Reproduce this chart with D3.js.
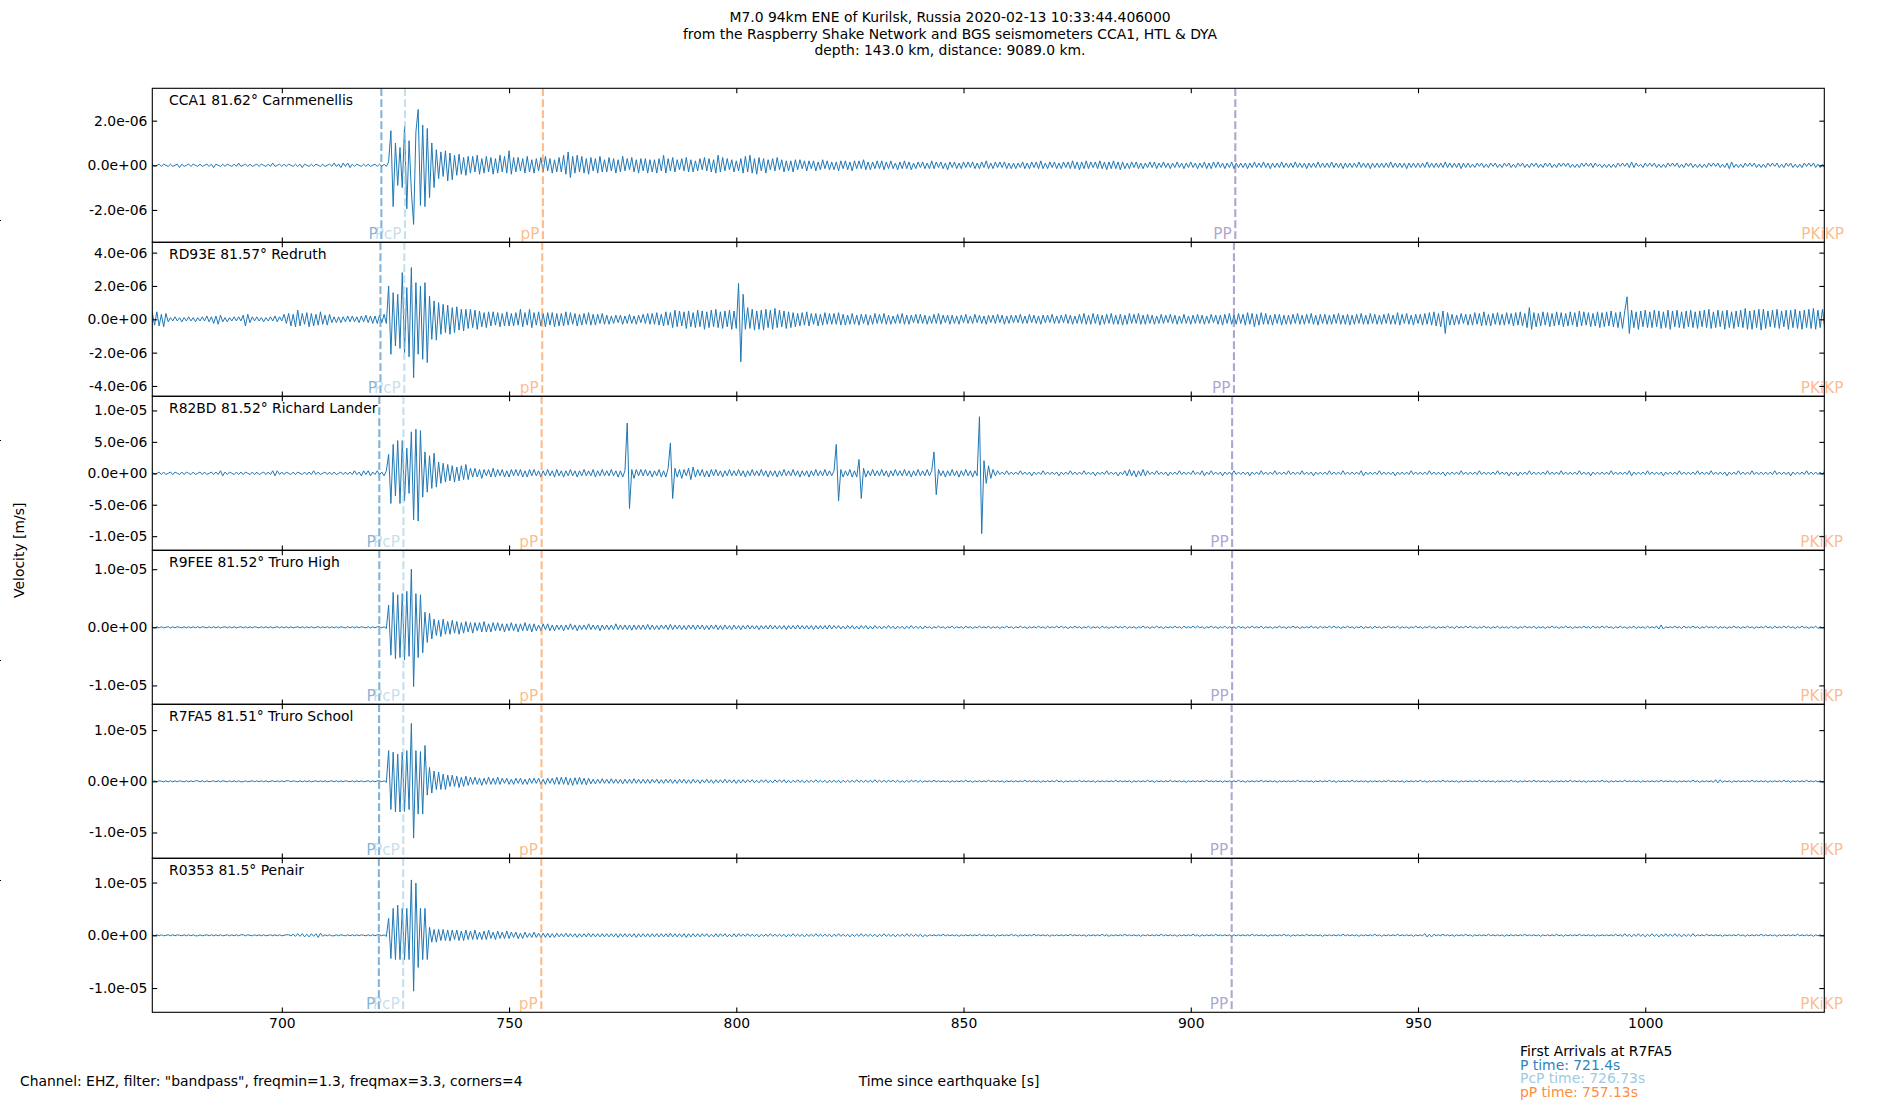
<!DOCTYPE html>
<html>
<head>
<meta charset="utf-8">
<script src="https://cdn.jsdelivr.net/npm/d3@7"></script>
<style>
  body { margin: 0; background: #fff; }
  svg text { font-family: "DejaVu Sans", sans-serif; }
</style>
</head>
<body>
<div id="chart"></div>
<script>
// ---- data ----
const titleLines = [
  "M7.0 94km ENE of Kurilsk, Russia 2020-02-13 10:33:44.406000",
  "from the Raspberry Shake Network and BGS seismometers CCA1, HTL & DYA",
  "depth: 143.0 km, distance: 9089.0 km."
];
const stations = [
  "CCA1 81.62° Carnmenellis",
  "RD93E 81.57° Redruth",
  "R82BD 81.52° Richard Lander",
  "R9FEE 81.52° Truro High",
  "R7FA5 81.51° Truro School",
  "R0353 81.5° Penair"
];
const xLim = [671.5, 1039.4];
const xTicks = [700, 750, 800, 850, 900, 950, 1000];
const yLims = [3.45e-6, 4.62e-6, 1.225e-5, 1.325e-5, 1.505e-5, 1.46e-5];
const yTicks = [
  [-2e-6, 0, 2e-6],
  [-4e-6, -2e-6, 0, 2e-6, 4e-6],
  [-1e-5, -5e-6, 0, 5e-6, 1e-5],
  [-1e-5, 0, 1e-5],
  [-1e-5, 0, 1e-5],
  [-1e-5, 0, 1e-5]
];
const phaseNames = ["P", "PcP", "pP", "PP", "PKiKP"];
const phaseColors = ["#3182bd", "#9ecae1", "#fd8d3c", "#756bb1", "#fd8d3c"];
// arrival times [s] per station, same order as phaseNames
const arrivals = [
  [721.9, 727.1, 757.45, 909.8, 1044.5],
  [721.7, 726.95, 757.3, 909.5, 1044.4],
  [721.45, 726.76, 757.17, 909.1, 1044.3],
  [721.45, 726.76, 757.17, 909.1, 1044.3],
  [721.4, 726.73, 757.13, 909.0, 1044.3],
  [721.35, 726.7, 757.09, 909.0, 1044.3]
];
const arrivalNotes = ["First Arrivals at R7FA5", "P time: 721.4s", "PcP time: 726.73s", "pP time: 757.13s"];
const noteColors = ["#000", "#3182bd", "#9ecae1", "#fd8d3c"];
const footer = 'Channel: EHZ, filter: "bandpass", freqmin=1.3, freqmax=3.3, corners=4';
const xLabel = "Time since earthquake [s]";
const yLabel = "Velocity [m/s]";

// trace samples every dt seconds from t0, in units of unit[i] m/s
const t0 = 671.5, dt = 0.5;
const unit = [5e-8, 5e-8, 2e-7, 1e-7, 1e-7, 1e-7];

const cca1 = [
  1,-1,0,1,-1,1,0,-1,1,-1,0,1,-2,1,-1,0,1,-1,1,0,
  -1,1,-1,0,1,-1,1,-2,1,0,-1,1,-1,1,0,-1,1,-1,2,-1,
  0,1,-1,1,-1,0,1,-1,1,0,-1,1,-1,2,-1,0,1,-1,1,-1,
  1,0,-1,1,-1,1,-2,1,0,-1,1,-1,1,0,-1,1,-1,0,1,-1,
  2,-1,1,-2,2,-1,2,-2,1,-1,1,0,-1,1,-1,1,-1,0,1,-1,
  1,-1,1,-1,3,31,-37,20,-18,16,-20,35,-39,22,-23,-53,30,50,-36,36,
  -37,33,-29,20,-20,14,-12,12,-10,13,-14,11,-13,9,-9,10,-8,7,-9,8,
  -7,8,-6,9,-8,6,-7,8,-6,7,-8,6,-7,9,-6,8,-7,13,-8,7,
  -6,7,-5,6,-7,8,-6,5,-7,6,-5,7,-6,8,-5,6,-7,5,-6,7,
  -6,9,-8,12,-11,8,-7,9,-6,8,-7,6,-8,7,-5,6,-7,8,-6,5,
  -6,7,-5,6,-7,5,-6,8,-5,6,-4,7,-6,5,-7,6,-5,6,-7,5,
  -6,5,-7,6,-5,9,-7,6,-5,7,-6,5,-4,6,-5,7,-6,5,-6,4,
  -5,6,-4,7,-5,6,-6,5,-7,9,-6,7,-5,6,-4,5,-6,4,-5,6,
  -7,8,-6,9,-7,6,-8,7,-5,6,-7,5,-4,6,-5,7,-4,5,-6,4,
  -5,4,-6,5,-4,5,-3,4,-5,4,-3,4,-5,3,-4,5,-3,4,-4,3,
  -4,3,-5,4,-3,4,-4,3,-5,4,-3,4,-3,5,-4,3,-4,3,-3,4,
  -3,4,-4,3,-3,4,-3,2,-4,3,-3,4,-3,3,-4,2,-3,3,-2,3,
  -3,2,-3,4,-3,3,-2,3,-3,2,-4,3,-2,3,-3,2,-3,3,-2,3,
  -2,3,-3,2,-3,3,-2,4,-3,2,-3,3,-2,3,-2,3,-3,2,-3,2,
  -3,2,-2,3,-3,2,-3,3,-2,3,-3,4,-3,2,-3,3,-2,3,-3,2,
  -3,3,-2,3,-3,4,-3,3,-4,3,-3,4,-3,3,-2,3,-3,4,-3,3,
  -4,3,-3,4,-3,3,-4,3,-3,2,-3,3,-2,3,-3,2,-3,2,-2,3,
  -2,3,-3,2,-2,3,-2,2,-3,2,-2,3,-2,2,-3,2,-2,3,-2,2,
  -3,2,-2,3,-3,2,-3,3,-2,3,-2,2,-3,2,-2,3,-3,2,-2,2,
  -2,2,-3,2,-2,3,-2,2,-2,3,-2,2,-3,2,-2,2,-2,3,-2,2,
  -2,2,-2,3,-2,2,-2,2,-3,2,-2,2,-2,3,-2,2,-2,2,-2,3,
  -2,2,-2,2,-3,2,-2,2,-2,2,-2,3,-2,2,-2,2,-3,2,-2,2,
  -2,2,-2,2,-2,3,-2,2,-2,2,-2,2,-3,2,-2,2,-2,2,-2,2,
  -2,3,-2,2,-2,2,-2,2,-2,3,-2,2,-2,2,-2,2,-3,2,-2,2,
  -2,1,-2,2,-1,2,-2,1,-2,2,-1,2,-2,1,-2,2,-1,2,-2,1,
  -2,2,-1,2,-2,1,-2,2,-1,2,-2,1,-2,2,-1,2,-2,1,-2,2,
  -1,2,-1,2,-2,1,-2,1,-2,2,-1,2,-1,2,-2,2,-1,1,-2,1,
  -2,1,-2,1,-2,2,-1,2,-1,2,-2,3,-2,2,-1,1,-2,2,-1,2,
  -1,2,-2,1,-2,1,-2,2,-1,2,-1,2,-2,1,-2,2,-1,2,-2,1,
  -2,1,-2,1,-2,2,-1,2,-1,2,-2,1,-2,2,-3,3,-2,1,-2,1,
  -2,2,-1,2,-1,2,-2,1,-2,1,-2,2,-1,2,-1,2,-2,1,-2,2,
  -1,2,-2,1,-2,1,-2,2,-1,2,-1,2,-2,1,-2,1,-2,2,-1,1
];

const rd93e = [
  8,-7,9,-8,6,-9,7,-3,2,-2,3,-2,2,-3,2,-2,3,-2,2,-3,
  2,-2,3,-2,4,-3,3,-5,4,-6,5,-3,2,-3,2,-2,3,-2,3,-2,
  5,-8,6,-4,3,-2,3,-2,2,-3,2,-2,3,-2,4,-3,3,-2,6,-5,
  7,-8,6,-9,11,-8,7,-6,8,-9,7,-8,6,-7,9,-6,5,-7,6,-4,
  3,-4,3,-4,3,-3,4,-3,4,-3,3,-4,4,-3,5,-4,4,-5,4,-5,
  5,-4,6,-5,40,-42,32,-32,30,-35,56,-40,38,-45,62,-70,44,-42,40,-48,
  44,-52,28,-24,22,-25,20,-18,18,-16,17,-18,14,-16,15,-13,12,-14,12,-11,
  12,-10,11,-12,10,-9,8,-10,9,-8,9,-7,8,-9,7,-8,9,-8,7,-8,
  8,-7,12,-9,8,-7,12,-10,8,-7,9,-8,7,-9,8,-7,8,-9,7,-8,
  7,-8,9,-7,8,-6,7,-8,6,-7,7,-6,8,-7,6,-7,6,-5,7,-6,
  5,-6,4,-5,5,-4,5,-6,4,-5,6,-5,4,-6,5,-4,6,-5,7,-6,
  7,-6,8,-7,6,-8,9,-7,8,-10,11,-9,10,-8,9,-11,10,-9,8,-10,
  11,-9,10,-12,9,-10,11,-9,12,-10,9,-11,10,-9,11,-12,10,-11,43,-51,
  30,-12,14,-11,12,-13,10,-12,11,-13,12,-10,11,-12,13,-10,11,-9,10,-11,
  9,-10,8,-9,7,-8,8,-7,9,-8,7,-6,7,-8,6,-7,8,-6,7,-6,
  7,-6,8,-7,6,-7,5,-6,7,-6,5,-7,6,-5,6,-7,5,-6,7,-5,
  6,-5,7,-6,5,-6,4,-5,6,-5,7,-6,5,-6,5,-4,6,-5,6,-5,
  5,-6,4,-5,6,-5,7,-6,5,-4,5,-6,5,-5,4,-6,5,-4,6,-5,
  4,-5,6,-4,5,-5,4,-6,5,-4,5,-5,6,-4,5,-6,4,-5,5,-4,
  5,-4,6,-5,4,-5,6,-4,5,-5,4,-6,5,-4,5,-4,6,-5,4,-5,
  5,-4,6,-5,5,-6,4,-5,6,-5,7,-6,5,-6,7,-5,6,-7,5,-6,
  6,-5,7,-6,5,-6,6,-7,5,-6,7,-5,6,-5,7,-6,5,-6,6,-5,
  5,-6,4,-5,6,-5,5,-4,6,-5,5,-6,4,-5,6,-5,4,-6,5,-5,
  6,-5,5,-6,4,-5,6,-4,5,-6,5,-7,6,-5,7,-6,5,-6,7,-5,
  6,-7,8,-6,7,-9,6,-7,8,-6,7,-6,5,-7,6,-5,6,-7,5,-6,
  5,-6,6,-5,7,-6,5,-6,6,-5,7,-6,5,-7,6,-5,6,-6,5,-6,
  6,-5,7,-6,5,-6,6,-7,5,-6,6,-5,7,-6,5,-6,7,-5,6,-6,
  5,-6,6,-5,7,-6,5,-6,8,-7,6,-5,7,-6,5,-7,6,-5,6,-7,
  7,-6,8,-7,9,-8,7,-9,10,-17,8,-7,6,-7,5,-6,7,-5,6,-7,
  6,-7,8,-6,7,-8,9,-7,6,-8,7,-6,8,-7,6,-7,8,-6,7,-8,
  8,-7,9,-8,7,-10,14,-12,8,-9,7,-8,9,-7,8,-9,7,-8,9,-7,
  8,-9,7,-8,9,-7,8,-9,10,-8,9,-7,8,-9,7,-8,9,-10,8,-9,
  9,-8,10,-9,8,-10,9,-11,10,27,-17,11,-10,9,-12,10,-9,11,-10,9,
  -10,11,-9,10,-11,9,-10,11,-12,10,-9,11,-10,9,-11,10,-9,11,-10,9,
  -11,10,-9,11,-10,12,-11,9,-10,11,-9,10,-12,11,-10,9,-11,10,-9,11,
  -10,13,-12,10,-12,11,-10,12,-13,12,-11,10,-9,11,-10,12,-11,10,-9,11,
  -12,11,-10,12,-11,10,-12,11,-10,12,-11,13,-12,11,-10,12,-11,10,-12,11
];

const r82bd = [
  1,-1,0,1,-1,1,-1,0,1,-1,1,0,-1,1,-1,1,0,-1,1,-1,
  0,1,-1,1,-1,0,1,-1,1,-1,2,-2,1,-1,1,0,-1,1,-1,1,
  -1,1,0,-1,1,-1,1,-1,0,1,-1,1,-1,2,-2,2,-1,1,-1,1,
  0,-1,1,-1,1,0,-1,1,-1,1,-1,2,-1,1,-1,0,1,-1,1,-1,
  1,-1,0,1,-1,1,-1,1,-1,2,-1,1,-2,2,-1,2,-2,1,-1,2,
  -1,1,-2,2,15,-24,23,-18,26,-24,26,-22,20,-16,33,-37,35,-38,34,-19,
  17,-15,14,-12,16,-11,9,-8,8,-7,7,-6,6,-7,5,-6,6,-5,7,-5,
  4,-3,4,-3,3,-4,3,-2,3,-3,4,-3,3,-2,3,-3,2,-3,3,-2,
  3,-2,3,-3,2,-3,3,-2,3,-2,2,-3,2,-2,3,-2,2,-3,3,-2,
  2,-3,2,-2,3,-2,2,-3,2,-2,3,-2,2,-2,3,-3,2,-2,3,-2,
  2,-2,3,-2,2,-3,2,-3,2,40,-28,3,-4,3,-2,3,-2,3,-2,2,
  -3,2,-2,3,-3,2,-3,4,24,-20,4,-3,3,-4,3,-2,4,-5,5,-3,
  3,-2,3,-3,2,-3,3,-2,3,-2,2,-3,2,-2,3,-2,2,-2,3,-2,
  2,-3,2,-2,3,-2,2,-2,3,-2,2,-3,2,-2,2,-3,2,-2,3,-2,
  2,-2,3,-2,2,-3,2,-2,2,-3,2,-2,3,-2,2,-2,3,-2,2,-2,
  2,23,-22,3,-3,2,-2,3,-3,2,-3,11,-20,4,-3,2,-2,3,-2,2,
  -2,3,-2,2,-3,2,-2,3,-2,2,-2,3,-2,2,-3,2,-2,3,-2,2,
  -2,3,-2,2,17,-17,3,-2,2,-3,2,-2,3,-2,2,-3,2,-2,3,-2,
  2,-3,2,-2,45,-48,10,-8,6,-4,3,-2,2,-1,1,-1,2,-1,1,-1,
  1,-1,2,-1,1,-1,1,-2,1,-1,1,-1,2,-1,1,-1,1,-1,1,-2,
  1,-1,1,-1,2,-1,1,-1,1,-1,2,-1,1,-1,1,-2,1,-1,1,-1,
  2,-1,1,-1,1,-2,1,-1,2,-2,3,-2,2,-3,2,-2,3,-2,2,-1,
  1,-1,2,-1,1,-1,1,-2,1,-1,1,-1,2,-1,1,-1,1,-1,2,-1,
  1,-1,2,-2,1,-1,2,-1,1,-1,1,-2,1,-1,1,-1,2,-1,1,-1,
  1,-1,1,-2,1,-1,1,-1,2,-1,1,-1,1,-1,2,-1,1,-1,1,-1,
  2,-1,1,-1,1,-1,2,-1,1,-1,1,-2,1,-1,1,-1,1,-1,2,-1,
  1,-1,1,-1,2,-1,1,-1,1,-1,1,-1,2,-2,1,-1,1,-1,1,-1,
  2,-1,1,-1,1,-1,1,-2,1,-1,1,-1,1,-1,2,-1,1,-1,1,-1,
  1,-1,2,-1,1,-1,1,-1,1,-2,1,-1,1,-1,1,-1,2,-1,1,-1,
  1,-1,1,-1,2,-1,1,-1,1,-1,1,-1,2,-1,1,-1,1,-2,1,-1,
  1,-2,1,-1,1,-1,2,-1,1,-1,1,-1,1,-1,2,-1,1,-1,1,-1,
  2,-1,1,-1,1,-1,1,-1,2,-1,1,-1,1,-2,1,-1,1,-1,1,-1,
  1,-1,2,-1,1,-1,1,-1,1,-1,2,-2,1,-1,1,-1,1,-1,2,-1,
  1,-1,1,-1,1,-2,1,-1,1,-1,1,-1,2,-1,1,-1,1,-1,1,-1,
  2,-1,1,-1,1,-1,2,-1,1,-1,1,-1,1,-2,1,-1,1,-1,2,-1,
  1,-1,1,-1,2,-1,1,-1,1,-1,1,-1,1,-1,2,-1,1,-1,1,-1,
  1,-2,1,-1,1,-1,1,-1,2,-1,1,-1,1,-1,1,-1,2,-1,1,-1
];

const r9fee = [
  1,-1,1,-1,1,-1,0,1,-1,1,-1,1,0,-1,1,-1,1,-1,1,-1,
  1,-1,1,0,-1,1,-1,1,-1,1,-1,0,1,-1,1,-1,1,-1,0,1,
  -1,1,-1,1,-1,1,0,-1,1,-1,1,-1,1,-1,0,1,-1,1,-1,1,
  -1,1,-1,0,1,-1,1,-1,1,-1,1,-1,0,1,-1,1,-1,1,-1,1,
  -1,1,-1,1,0,-1,1,-1,1,-1,1,-1,1,0,-1,1,-1,1,-1,1,
  1,-1,1,-2,38,-48,60,-54,56,-52,58,-56,62,-50,100,-102,58,-52,56,-44,
  26,-26,24,-20,14,-14,12,-16,14,-12,10,-12,12,-10,10,-12,8,-10,10,-8,
  8,-10,8,-6,8,-8,10,-8,6,-8,8,-6,8,-6,6,-8,6,-6,8,-6,
  6,-8,6,-6,8,-6,6,-8,6,-6,4,-6,6,-4,6,-6,4,-6,4,-4,
  4,-6,4,-4,6,-4,4,-6,4,-4,4,-4,6,-4,4,-4,4,-6,4,-4,
  4,-4,4,-4,6,-4,4,-4,4,-4,4,-5,4,-4,4,-4,4,-4,5,-4,
  4,-4,3,-4,4,-3,4,-4,5,-4,4,-3,4,-4,3,-4,4,-3,4,-4,
  4,-3,4,-4,3,-4,4,-3,4,-4,3,-4,4,-3,3,-4,4,-3,3,-4,
  3,-3,4,-3,3,-3,3,-4,3,-3,3,-3,4,-3,3,-3,3,-3,3,-4,
  3,-3,3,-3,4,-3,3,-3,3,-3,3,-4,3,-3,3,-3,3,-3,4,-3,
  3,-2,3,-3,2,-3,3,-2,3,-3,2,-3,3,-2,3,-3,2,-3,3,-2,
  2,-3,2,-2,3,-2,2,-3,2,-2,2,-3,2,-2,3,-2,2,-2,2,-3,
  2,-1,1,-2,1,-1,2,-1,1,-2,1,-1,2,-2,1,-1,1,-2,2,-1,
  1,-2,1,-1,2,-1,1,-1,2,-2,1,-1,1,-2,1,-1,2,-1,1,-2,
  1,-1,2,-1,1,-2,1,-1,1,-1,2,-1,1,-2,2,-1,1,-1,2,-1,
  2,-1,1,-2,1,-1,2,-1,1,-2,1,-1,2,-2,1,-1,1,-2,2,-1,
  1,-2,1,-1,2,-1,1,-1,2,-2,1,-1,1,-2,1,-1,2,-1,1,-2,
  1,-1,2,-1,1,-2,1,-1,1,-1,2,-1,1,-2,2,-1,1,-1,2,-1,
  2,-1,1,-2,1,-1,2,-1,1,-2,1,-1,2,-2,1,-1,1,-2,2,-1,
  1,-2,1,-1,2,-1,1,-1,2,-2,1,-1,1,-2,1,-1,2,-1,1,-2,
  1,-1,2,-1,1,-2,1,-1,1,-1,2,-1,1,-2,2,-1,1,-1,2,-1,
  2,-1,1,-2,1,-1,2,-1,1,-2,1,-1,2,-2,1,-1,1,-2,2,-1,
  1,-2,1,-1,2,-1,1,-1,2,-2,1,-1,1,-2,1,-1,2,-1,1,-2,
  1,-1,2,-1,1,-2,1,-1,1,-1,2,-1,1,-2,2,-1,1,-1,2,-1,
  2,-1,1,-2,1,-1,2,-1,1,-2,1,-1,2,-2,1,-1,1,-2,2,-1,
  1,-2,1,-1,2,-1,1,-1,2,-2,1,-1,1,-2,1,-1,2,-1,1,-2,
  1,-1,2,-1,1,-2,1,-1,1,-1,2,-1,1,-2,2,-1,1,-1,2,-1,
  2,-1,1,-2,1,-1,2,-1,1,-2,1,-1,2,-2,1,-1,1,-2,2,-1,
  1,-1,2,-3,4,-3,1,-1,1,-1,2,-1,1,-2,2,-1,1,-1,2,-1,
  1,-2,1,-1,2,-1,1,-1,2,-2,1,-1,1,-2,1,-1,2,-1,1,-2,
  1,-1,2,-1,1,-2,1,-1,1,-1,2,-1,1,-2,2,-1,1,-1,2,-1,
  2,-1,1,-2,1,-1,2,-1,1,-2,1,-1,2,-2,1,-1,1,-2,2,-1
];

const r7fa5 = [
  -1,1,-1,1,0,-1,1,-1,1,-1,1,-1,1,0,-1,1,-1,1,-1,1,
  1,-1,1,-1,1,-1,0,1,-1,1,-1,1,0,-1,1,-1,1,-1,1,-1,
  -1,1,-1,0,1,-1,1,-1,1,-1,1,-1,0,1,-1,1,-1,1,-1,1,
  1,-1,1,0,-1,1,-1,1,-1,1,-1,0,1,-1,1,-1,1,-1,0,1,
  -1,1,-1,1,-1,1,0,-1,1,-1,1,-1,1,-1,0,1,-1,1,-1,1,
  1,-1,1,-2,60,-55,57,-60,53,-60,57,-59,60,-55,113,-111,60,-64,58,-64,
  70,-27,27,-23,20,-16,18,-16,14,-16,12,-10,12,-10,10,-12,8,-10,10,-8,
  8,-6,8,-6,6,-8,6,-6,8,-6,6,-6,8,-6,6,-4,6,-6,4,-6,
  6,-4,6,-6,4,-6,6,-4,6,-4,6,-6,4,-6,6,-4,6,-6,8,-6,
  8,-6,8,-7,6,-8,7,-6,8,-6,6,-7,6,-5,4,-5,4,-4,5,-4,
  4,-4,5,-4,4,-4,4,-5,4,-4,4,-4,5,-4,4,-4,4,-4,4,-4,
  4,-3,4,-4,3,-4,4,-3,4,-4,3,-4,4,-3,4,-4,3,-4,4,-3,
  3,-4,3,-3,4,-3,3,-4,3,-3,3,-3,4,-3,3,-3,3,-4,3,-3,
  3,-3,3,-2,3,-3,2,-3,3,-2,3,-3,2,-3,3,-2,3,-2,3,-3,
  2,-3,2,-2,3,-2,2,-3,2,-2,2,-2,3,-2,2,-2,2,-3,2,-2,
  2,-2,2,-3,2,-2,2,-2,2,-2,3,-2,2,-2,2,-2,2,-2,3,-2,
  2,-2,2,-2,2,-1,2,-2,2,-2,1,-2,2,-2,2,-1,2,-2,2,-2,
  1,-1,1,-1,2,-1,1,-1,1,-1,1,-2,1,-1,1,-1,1,-1,2,-1,
  1,-2,1,-1,1,-1,1,-1,2,-1,1,-1,1,-1,1,-2,1,-1,1,-1,
  1,-1,1,-1,2,-1,1,-1,1,-1,1,-2,1,-1,1,-1,1,-1,2,-1,
  1,-2,1,-1,1,-1,1,-1,2,-1,1,-1,1,-1,1,-2,1,-1,1,-1,
  1,-1,1,-1,2,-1,1,-1,1,-1,1,-2,1,-1,1,-1,1,-1,2,-1,
  1,-2,1,-1,1,-1,1,-1,2,-1,1,-1,1,-1,1,-2,1,-1,1,-1,
  1,-1,1,-1,2,-1,1,-1,1,-1,1,-2,1,-1,1,-1,1,-1,2,-1,
  1,-2,1,-1,1,-1,1,-1,2,-1,1,-1,1,-1,1,-2,1,-1,1,-1,
  1,-1,1,-1,2,-1,1,-1,1,-1,1,-2,1,-1,1,-1,1,-1,2,-1,
  1,-2,1,-1,1,-1,1,-1,2,-1,1,-1,1,-1,1,-2,1,-1,1,-1,
  1,-1,1,-1,2,-1,1,-1,1,-1,1,-2,1,-1,1,-1,1,-1,2,-1,
  1,-2,1,-1,1,-1,1,-1,2,-1,1,-1,1,-1,1,-2,1,-1,1,-1,
  1,-1,1,-1,2,-1,1,-1,1,-1,1,-2,1,-1,1,-1,1,-1,2,-1,
  1,-2,1,-1,1,-1,1,-1,2,-1,1,-1,1,-1,1,-2,1,-1,1,-1,
  1,-1,1,-1,2,-1,1,-1,1,-1,1,-2,1,-1,1,-1,1,-1,2,-1,
  1,-2,1,-1,1,-1,1,-1,2,-1,1,-1,1,-1,1,-2,1,-1,1,-1,
  1,-1,1,-1,2,-1,1,-1,1,-1,1,-2,1,-1,1,-1,1,-1,2,-1,
  1,-2,1,-1,1,-1,1,-2,3,-3,3,-2,1,-1,1,-2,1,-1,1,-1,
  1,-1,1,-1,2,-1,1,-1,1,-1,1,-2,1,-1,1,-1,1,-1,2,-1,
  1,-2,1,-1,1,-1,1,-1,2,-1,1,-1,1,-1,1,-2,1,-1,1,-1
];

const r0353 = [
  1,-1,1,-1,1,-1,0,1,-1,1,-1,1,0,-1,1,-1,1,-1,1,-1,
  -1,1,-1,0,1,-1,1,-1,1,-1,1,-1,0,1,-1,1,-1,1,-1,1,
  1,-1,1,0,-1,1,-1,1,-1,1,-1,0,1,-1,1,-1,1,-1,0,1,
  1,-1,2,-2,3,-2,3,-3,2,-3,3,-2,3,-4,4,-2,1,-1,1,-1,
  -1,1,-1,1,0,-1,1,-1,1,-1,1,-1,1,0,-1,1,-1,1,-1,1,
  1,-1,1,-2,32,-44,51,-46,57,-46,51,-46,51,-46,105,-106,99,-61,51,-46,
  51,-46,15,-13,11,-13,11,-10,11,-10,10,-11,10,-8,10,-10,8,-10,10,-8,
  8,-8,10,-8,6,-8,8,-8,10,-6,6,-8,8,-6,6,-6,8,-6,6,-4,
  6,-6,4,-6,6,-4,4,-4,6,-4,4,-4,4,-4,4,-4,3,-4,4,-3,
  3,-3,4,-3,3,-3,3,-4,3,-3,3,-3,4,-3,3,-3,3,-3,3,-3,
  3,-3,3,-3,3,-4,3,-3,3,-3,3,-3,3,-4,3,-3,3,-3,3,-3,
  3,-3,3,-3,3,-3,3,-3,4,-3,3,-3,3,-3,3,-4,3,-3,3,-3,
  3,-3,3,-2,3,-3,2,-3,3,-3,3,-2,3,-3,2,-3,3,-3,3,-2,
  2,-2,3,-2,2,-2,2,-3,2,-2,2,-2,3,-2,2,-2,2,-2,2,-3,
  2,-2,3,-2,2,-2,2,-3,2,-2,2,-2,3,-2,2,-2,2,-2,2,-3,
  2,-2,3,-2,2,-2,2,-3,2,-2,2,-2,3,-2,2,-2,2,-2,2,-3,
  2,-2,3,-2,2,-2,2,-3,2,-2,2,-2,3,-2,2,-2,2,-2,2,-3,
  1,-2,1,-1,1,-1,1,-1,2,-1,1,-1,1,-1,1,-2,1,-1,1,-1,
  1,-1,1,-1,2,-1,1,-1,1,-1,1,-2,1,-1,1,-1,1,-1,2,-1,
  1,-2,1,-1,1,-1,1,-1,2,-1,1,-1,1,-1,1,-2,1,-1,1,-1,
  1,-1,1,-1,2,-1,1,-1,1,-1,1,-2,1,-1,1,-1,1,-1,2,-1,
  1,-2,1,-1,1,-1,1,-1,2,-1,1,-1,1,-1,1,-2,1,-1,1,-1,
  1,-1,1,-1,2,-1,1,-1,1,-1,1,-2,1,-1,1,-1,1,-1,2,-1,
  1,-2,1,-1,1,-1,1,-1,2,-1,1,-1,1,-1,1,-2,1,-1,1,-1,
  1,-1,1,-1,2,-1,1,-1,1,-1,1,-2,1,-1,1,-1,1,-1,2,-1,
  1,-2,1,-1,1,-1,1,-1,2,-1,1,-1,1,-1,1,-2,1,-1,1,-1,
  1,-1,1,-1,2,-1,1,-1,1,-1,1,-2,1,-1,1,-1,1,-1,2,-1,
  1,-2,1,-1,1,-1,1,-1,2,-1,1,-1,1,-1,1,-2,1,-1,1,-1,
  3,-3,2,-3,2,-1,1,-1,2,-1,1,-1,1,-2,1,-1,1,-1,2,-1,
  1,-2,1,-1,1,-1,1,-1,2,-1,1,-1,1,-1,1,-2,1,-1,1,-1,
  1,-1,1,-1,2,-1,1,-1,1,-1,1,-2,1,-1,1,-1,1,-1,2,-1,
  1,-2,1,-1,1,-1,1,-1,2,-1,1,-1,1,-1,1,-2,1,-1,1,-1,
  1,-1,1,-1,2,-1,1,-2,3,-2,2,-3,2,-2,3,-2,2,-3,2,-2,
  3,-2,2,-3,2,-2,3,-2,2,-2,3,-2,2,-3,2,-2,2,-2,3,-2,
  1,-1,1,-1,2,-1,1,-1,1,-1,1,-2,1,-1,1,-1,1,-1,2,-1,
  1,-2,1,-1,1,-1,1,-1,2,-1,1,-1,1,-1,1,-2,1,-1,1,-1,
  1,-1,1,-1,2,-1,1,-1,1,-1,1,-2,1,-1,1,-1,1,-1,2,-1
];

const traces = [cca1, rd93e, r82bd, r9fee, r7fa5, r0353];

// ---- layout ----
const width = 1900, height = 1100;
const margin = { top: 88.3, right: 75.7, bottom: 87.7, left: 152.3 };
const panelH = (height - margin.top - margin.bottom) / traces.length;
const tickLen = 4.9;

const svg = d3.select("#chart").append("svg")
  .attr("width", width)
  .attr("height", height)
  .attr("viewBox", [0, 0, width, height]);

const x = d3.scaleLinear()
  .domain(xLim)
  .range([margin.left, width - margin.right]);

// matplotlib-style "2.0e-06"
const sci = v => v.toExponential(1).replace(/e([+-])(\d)$/, "e$10$2");

const styleAxis = g => g
  .attr("font-size", 13.9)
  .attr("font-family", "DejaVu Sans")
  .call(g => g.select(".domain").remove())
  .call(g => g.selectAll(".tick line").attr("stroke-width", 1.1))
  .call(g => g.selectAll(".tick text").attr("fill", "#000"));

traces.forEach((trace, i) => {
  const top = margin.top + i * panelH;
  const y = d3.scaleLinear()
    .domain([-yLims[i], yLims[i]])
    .range([top + panelH, top]);

  const panel = svg.append("g").attr("class", "panel");

  panel.append("clipPath")
    .attr("id", "clip" + i)
    .append("rect")
    .attr("x", margin.left)
    .attr("y", top)
    .attr("width", width - margin.left - margin.right)
    .attr("height", panelH);

  const line = d3.line()
    .x((d, k) => x(t0 + k * dt))
    .y(d => y(d * unit[i]));

  panel.append("path")
    .datum(trace)
    .attr("clip-path", `url(#clip${i})`)
    .attr("fill", "none")
    .attr("stroke", "#1f77b4")
    .attr("stroke-width", 1)
    .attr("stroke-linejoin", "round")
    .attr("d", line);

  // phase arrivals
  panel.append("g")
    .attr("clip-path", `url(#clip${i})`)
    .selectAll("line")
    .data(arrivals[i])
    .join("line")
    .attr("x1", d => x(d))
    .attr("x2", d => x(d))
    .attr("y1", top)
    .attr("y2", top + panelH)
    .attr("stroke", (d, j) => phaseColors[j])
    .attr("stroke-opacity", 0.6)
    .attr("stroke-width", 2.1)
    .attr("stroke-dasharray", "7.7,3.3");

  panel.append("g")
    .selectAll("text")
    .data(arrivals[i])
    .join("text")
    .attr("x", d => x(d) - 3.5)
    .attr("y", top + panelH - 3.6)
    .attr("text-anchor", "end")
    .attr("font-size", 15.3)
    .attr("fill", (d, j) => phaseColors[j])
    .attr("fill-opacity", 0.6)
    .text((d, j) => phaseNames[j]);

  // axes, ticks pointing inwards
  panel.append("g")
    .attr("transform", `translate(${margin.left},0)`)
    .call(d3.axisLeft(y).tickValues(yTicks[i]).tickSize(-tickLen).tickPadding(tickLen).tickFormat(sci))
    .call(styleAxis);

  panel.append("g")
    .attr("transform", `translate(${width - margin.right},0)`)
    .call(d3.axisRight(y).tickValues(yTicks[i]).tickSize(-tickLen).tickFormat(""))
    .call(styleAxis);

  panel.append("g")
    .attr("transform", `translate(0,${top})`)
    .call(d3.axisTop(x).tickValues(xTicks).tickSize(-tickLen).tickFormat(""))
    .call(styleAxis);

  panel.append("g")
    .attr("transform", `translate(0,${top + panelH})`)
    .call(d3.axisBottom(x).tickValues(xTicks).tickSize(-tickLen).tickPadding(5.8)
      .tickFormat(i === traces.length - 1 ? d3.format("d") : ""))
    .call(styleAxis);

  panel.append("rect")
    .attr("x", margin.left)
    .attr("y", top)
    .attr("width", width - margin.left - margin.right)
    .attr("height", panelH)
    .attr("fill", "none")
    .attr("stroke", "#000")
    .attr("stroke-width", 1.1);

  panel.append("text")
    .attr("x", margin.left + 16.7)
    .attr("y", top + 16.7)
    .attr("font-size", 13.9)
    .text(stations[i]);
});

// hidden figure-wide axis leaves only its tick stubs at the left edge
svg.append("g")
  .attr("transform", "translate(1,0)")
  .call(d3.axisLeft(d3.scaleLinear().domain([0, 1]).range([height, 0]))
    .tickValues([0.2, 0.4, 0.6, 0.8]).tickSize(3.5).tickFormat(""))
  .call(g => g.select(".domain").remove());

// titles and labels
svg.append("g")
  .selectAll("text")
  .data(titleLines)
  .join("text")
  .attr("x", width / 2)
  .attr("y", (d, k) => 22 + k * 16.5)
  .attr("text-anchor", "middle")
  .attr("font-size", 13.9)
  .text(d => d);

svg.append("text")
  .attr("transform", `translate(23.5,${margin.top + 3 * panelH}) rotate(-90)`)
  .attr("text-anchor", "middle")
  .attr("font-size", 13.9)
  .text(yLabel);

svg.append("text")
  .attr("x", 20)
  .attr("y", 1086)
  .attr("font-size", 13.9)
  .text(footer);

svg.append("text")
  .attr("x", width / 2 - 1)
  .attr("y", 1086)
  .attr("text-anchor", "middle")
  .attr("font-size", 13.9)
  .text(xLabel);

svg.append("g")
  .selectAll("text")
  .data(arrivalNotes)
  .join("text")
  .attr("x", 1520)
  .attr("y", (d, k) => 1056 + k * 13.7)
  .attr("font-size", 13.9)
  .attr("fill", (d, k) => noteColors[k])
  .text(d => d);
</script>
</body>
</html>
